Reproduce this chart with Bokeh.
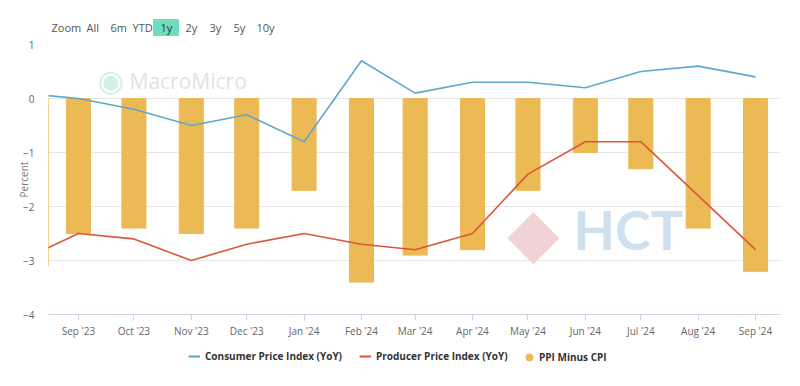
import pandas as pd
from bokeh.plotting import figure
from bokeh.layouts import column
from bokeh.models import (Range1d, FixedTicker, DatetimeTickFormatter, Legend, LegendItem,
                          Label, ColumnDataSource)
from bokeh.embed import file_html
from bokeh.resources import INLINE

# ---- data (China CPI / PPI YoY, %) ----
months = ["2023-08-01", "2023-09-01", "2023-10-01", "2023-11-01", "2023-12-01", "2024-01-01",
          "2024-02-01", "2024-03-01", "2024-04-01", "2024-05-01", "2024-06-01", "2024-07-01",
          "2024-08-01", "2024-09-01"]
cpi = [0.1, 0.0, -0.2, -0.5, -0.3, -0.8, 0.7, 0.1, 0.3, 0.3, 0.2, 0.5, 0.6, 0.4]
ppi = [-3.0, -2.5, -2.6, -3.0, -2.7, -2.5, -2.7, -2.8, -2.5, -1.4, -0.8, -0.8, -1.8, -2.8]
ppi_minus_cpi = [-3.1, -2.5, -2.4, -2.5, -2.4, -1.7, -3.4, -2.9, -2.8, -1.7, -1.0, -1.3, -2.4, -3.2]
tick_months = months[1:]
y_ticks = [-4, -3, -2, -1, 0, 1]
range_buttons = ["Zoom", "All", "6m", "YTD", "1y", "2y", "3y", "5y", "10y"]
series_names = ["Consumer Price Index (YoY)", "Producer Price Index (YoY)", "PPI Minus CPI"]

dates = pd.to_datetime(months)
src = ColumnDataSource(dict(date=dates, cpi=cpi, ppi=ppi, diff=ppi_minus_cpi))

BAR = "#EBBA55"
BLUE = "#5FA8CB"
RED = "#D9573A"
FONT = "Open Sans"
W = 784
FL, FR, FT = 48, 780, 44   # main frame left / right / top (page px)


def strip(h):
    # frames of a column are aligned with the main chart's frame -> map page px
    f = figure(width=W, height=h, output_backend="svg", toolbar_location=None,
               x_range=Range1d(FL, FR), y_range=Range1d(h, 0),
               x_axis_location=None, y_axis_location=None,
               min_border=0, min_border_left=0, min_border_right=0,
               min_border_top=0, min_border_bottom=0)
    f.outline_line_color = None
    f.xgrid.grid_line_color = None
    f.ygrid.grid_line_color = None
    return f


# ---------- top strip: range selector ----------
top = strip(38)
top.quad(left=153, right=178, top=19, bottom=35, color="#6fdcbc")
btn_px = [51, 86, 110, 132, 160, 185, 209, 233, 256]
for name, bx in zip(range_buttons, btn_px):
    sel = name == "1y"
    top.add_layout(Label(x=bx, y=27, text=name, text_font=FONT,
                         text_font_size="11px", text_color="#333333" if sel else "#555555",
                         text_baseline="middle"))

# ---------- main chart ----------
x0 = pd.Timestamp("2023-08-15 20:00")
x1 = pd.Timestamp("2024-09-14 12:00")
p = figure(width=W, height=306, x_axis_type="datetime", output_backend="svg",
           toolbar_location=None, x_range=Range1d(x0, x1), y_range=Range1d(-4, 1),
           min_border_left=FL, min_border_right=W - FR, min_border_top=6, min_border_bottom=30)
p.outline_line_color = None

bar_w = 13 * 24 * 3600 * 1000
bars = p.vbar(x="date", top=0, bottom="diff", width=bar_w, source=src, color=BAR)
l1 = p.line(x="date", y="cpi", source=src, color=BLUE, line_width=1.6)
l2 = p.line(x="date", y="ppi", source=src, color=RED, line_width=1.6)

ticks = [pd.Timestamp(m).timestamp() * 1000 for m in tick_months]
p.xaxis.ticker = FixedTicker(ticks=ticks)
p.xaxis.formatter = DatetimeTickFormatter(months="%b '%y", days="%b '%y")
p.xaxis.axis_line_color = "#ccd6eb"
p.xaxis.major_tick_line_color = "#ccd6eb"
p.xaxis.major_tick_out = 6
p.xaxis.major_tick_in = 0
p.xaxis.minor_tick_line_color = None
p.xaxis.major_label_text_font = FONT
p.xaxis.major_label_text_font_size = "10px"
p.xaxis.major_label_text_color = "#666666"
p.xaxis.major_label_standoff = 3

p.yaxis.ticker = FixedTicker(ticks=y_ticks)
p.yaxis.axis_line_color = None
p.yaxis.major_tick_line_color = None
p.yaxis.minor_tick_line_color = None
p.yaxis.major_label_text_font = FONT
p.yaxis.major_label_text_font_size = "10px"
p.yaxis.major_label_text_color = "#666666"
p.yaxis.major_label_standoff = 8
p.yaxis.axis_label = "Percent"
p.yaxis.axis_label_text_font = FONT
p.yaxis.axis_label_text_font_size = "10px"
p.yaxis.axis_label_text_font_style = "normal"
p.yaxis.axis_label_text_color = "#777777"
p.yaxis.axis_label_standoff = -11

p.xgrid.grid_line_color = None
p.ygrid.grid_line_color = "#e6e6e6"

# watermark decorations (reference page px -> data coords)
x0ms = x0.timestamp() * 1000
x1ms = x1.timestamp() * 1000
def px_to_x(px):
    return x0ms + (px - FL) / (FR - FL) * (x1ms - x0ms)
def py_to_y(py):
    return 1 - (py - FT) / 54.0

p.add_layout(Label(x=px_to_x(129), y=py_to_y(80), text="MacroMicro", text_font=FONT,
                   text_font_size="21px", text_color="#dfe3e6", text_baseline="middle"))
p.add_layout(Label(x=px_to_x(110), y=py_to_y(80), text="◉", text_font="DejaVu Sans",
                   text_font_size="30px", text_color="#d3f0e6", text_baseline="middle",
                   text_align="center"))
p.add_layout(Label(x=px_to_x(573), y=py_to_y(229), text="HCT", text_font="Lato",
                   text_font_size="54px", text_font_style="bold", text_color="#cfe0ee",
                   text_baseline="middle"))
p.add_layout(Label(x=px_to_x(533), y=py_to_y(232), text="◆", text_font="DejaVu Sans",
                   text_font_size="68px", text_color="#f0d3d5", text_baseline="middle",
                   text_align="center"))

# ---------- legend strip ----------
bot = strip(26)
n = [float("nan")]
d1 = bot.line(x=n, y=n, color=BLUE, line_width=2)
d2 = bot.line(x=n, y=n, color=RED, line_width=2)
d3 = bot.scatter(x=n, y=n, size=12, color=BAR, marker="circle")
leg_style = dict(orientation="horizontal", label_text_font=FONT, label_text_font_size="10px",
                 label_text_font_style="bold", label_text_color="#333333",
                 border_line_color=None, background_fill_alpha=0, padding=0, margin=0)
legend = Legend(items=[LegendItem(label=series_names[0], renderers=[d1]),
                       LegendItem(label=series_names[1], renderers=[d2])],
                location=(188 - FL, 7), glyph_width=12, glyph_height=12,
                spacing=17, label_standoff=5, **leg_style)
legend2 = Legend(items=[LegendItem(label=series_names[2], renderers=[d3])],
                 location=(520 - FL, 4), glyph_width=18, glyph_height=18,
                 label_standoff=1, **leg_style)
bot.add_layout(legend, "center")
bot.add_layout(legend2, "center")

layout = column(top, p, bot, spacing=0)
open("out.html", "w").write(file_html(layout, INLINE))
